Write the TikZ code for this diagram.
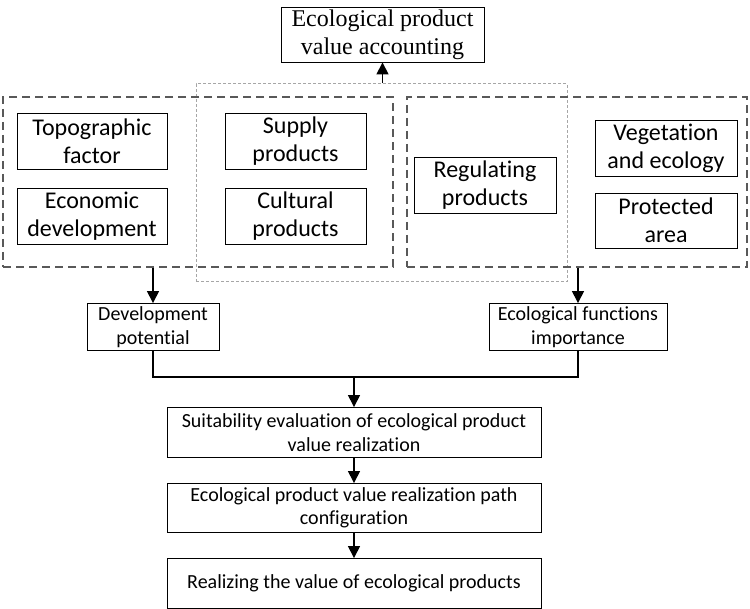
\documentclass[tikz,border=0pt]{standalone}
\usepackage{fontspec}
\setmainfont{Carlito}[Ligatures=NoCommon]
\newfontfamily\serifface{Liberation Serif}
\usetikzlibrary{arrows.meta,positioning}

\tikzstyle{block} = [rectangle, draw=black, line width=0.9pt, align=center, inner sep=0pt, font=\fontsize{24}{28}\selectfont]
\tikzstyle{small} = [block, font=\fontsize{20}{23.5}\selectfont]
\tikzstyle{group} = [rectangle, draw=black!65, line width=1.2pt, dash pattern=on 8pt off 5pt, inner sep=0pt]
\tikzstyle{share} = [rectangle, draw=black!35, line width=1pt, dash pattern=on 3pt off 2pt, inner sep=0pt]
\tikzstyle{arrow} = [line width=1.5pt, -{Triangle[length=12pt,width=12pt]}]
\tikzstyle{line} = [line width=1.5pt]

\begin{document}
\begin{tikzpicture}[x=1pt, y=-1pt]
    \useasboundingbox (0,0) rectangle (750,609);
    % groups
    \node (share) [share, minimum width=371, minimum height=198] at (381.5,183) {};
    \node (left) [group, minimum width=390, minimum height=170] at (198,182) {};
    \node (right) [group, minimum width=340, minimum height=170] at (577,182) {};
    % top
    \node (acc) [block, font=\serifface\fontsize{24}{28}\selectfont, minimum width=203, minimum height=55] at (382.5,34.5) {Ecological product\\value accounting};
    % factors and products
    \node (topo) [block, minimum width=150, minimum height=56] at (92,141) {Topographic\\factor};
    \node (econ) [block, minimum width=150, minimum height=56] at (92,216) {Economic\\development};
    \node (supply) [block, minimum width=141, minimum height=56] at (295.5,141) {Supply\\products};
    \node (cult) [block, minimum width=141, minimum height=56] at (295.5,216) {Cultural\\products};
    \node (reg) [block, minimum width=142, minimum height=56] at (485,185) {Regulating\\products};
    \node (veg) [block, minimum width=142, minimum height=56] at (666,148) {Vegetation\\and ecology};
    \node (prot) [block, minimum width=142, minimum height=55] at (666,220.5) {Protected\\area};
    % results
    \node (dev) [small, minimum width=132, minimum height=47] at (153,327) {Development\\potential};
    \node (func) [small, minimum width=178, minimum height=47] at (578,327) {Ecological functions\\importance};
    \node (suit) [small, minimum width=374, minimum height=50] at (354,432.5) {Suitability evaluation of ecological product\\value realization};
    \node (path) [small, minimum width=374, minimum height=49] at (354,508) {Ecological product value realization path\\configuration};
    \node (real) [small, minimum width=374, minimum height=50] at (354,583.5) {Realizing the value of ecological products};
    \coordinate (join) at (354,377);
    % connectors
    \draw [arrow] (share.north -| acc) -- (acc.south);
    \draw [arrow] (left.south -| dev) -- (dev.north);
    \draw [arrow] (right.south -| func) -- (func.north);
    \draw [line] (dev.south) |- (join) -| (func.south);
    \draw [arrow] (join) -- (suit.north);
    \draw [arrow] (suit) -- (path);
    \draw [arrow] (path) -- (real);
\end{tikzpicture}
\end{document}
